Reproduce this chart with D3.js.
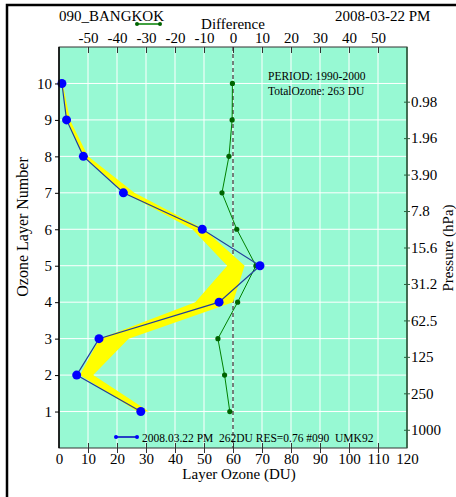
<!DOCTYPE html>
<html>
<head>
<meta charset="utf-8">
<script src="https://cdn.jsdelivr.net/npm/d3@7"></script>
<style>
  body { margin: 0; background: #fff; }
</style>
</head>
<body>
<div id="chart"></div>
<script>
// layer numbers and the measured profile
const layers = [1, 2, 3, 4, 5, 6, 7, 8, 9, 10];
const layerOzone = [28.2, 6.1, 13.8, 55.2, 69.3, 49.4, 22.2, 8.4, 2.6, 1.0];
const difference = [-1.1, -2.9, -5.2, 1.6, 7.9, 1.3, -3.8, -1.4, -0.3, -0.2];
// climatology range (yellow band)
const bandLow = [27, 7.2, 14, 47, 58, 46, 22.5, 8.4, 2.8, 1.0];
const bandHigh = [31, 11.8, 24, 60, 64, 50, 26, 10, 3.8, 1.3];
// axis tick labels
const ozoneTicks = [0, 10, 20, 30, 40, 50, 60, 70, 80, 90, 100, 110, 120];
const diffTicks = [-50, -40, -30, -20, -10, 0, 10, 20, 30, 40, 50];
const pressureLabels = ['1000', '250', '125', '62.5', '31.2', '15.6', '7.8', '3.90', '1.96', '0.98'];

const FONT = '"Liberation Serif", "DejaVu Serif", serif';
const W = 456, H = 497;
const margin = { top: 47, bottom: 49, left: 59, right: 49 };
const plotW = W - margin.left - margin.right;
const plotH = H - margin.top - margin.bottom;

const svg = d3.select('#chart').append('svg')
  .attr('width', W)
  .attr('height', H)
  .style('font-family', FONT);

const xScale = d3.scaleLinear().domain([0, 120]).range([margin.left, margin.left + plotW]);
const dScale = d3.scaleLinear().domain([-60, 60]).range([margin.left, margin.left + plotW]);
const yScale = d3.scaleLinear().domain([0, 11]).range([margin.top + plotH, margin.top]);

const rows = layers.map((l, i) => ({
  layer: l, ozone: layerOzone[i], diff: difference[i], lo: bandLow[i], hi: bandHigh[i]
}));

// outer frame (top and left)
svg.append('path')
  .attr('d', `M7,${H} L7,5 L${W},5`)
  .attr('fill', 'none')
  .attr('stroke', '#000')
  .attr('stroke-width', 2.5);

// plot background
svg.append('rect')
  .attr('x', margin.left).attr('y', margin.top)
  .attr('width', plotW).attr('height', plotH)
  .attr('fill', '#97f9d3');

// grid
const grid = svg.append('g').attr('stroke', '#fff').attr('stroke-width', 1);
grid.selectAll('.vg').data(ozoneTicks.slice(1, -1)).enter().append('line')
  .attr('x1', d => xScale(d)).attr('x2', d => xScale(d))
  .attr('y1', margin.top).attr('y2', margin.top + plotH);
grid.selectAll('.hg').data(layers).enter().append('line')
  .attr('y1', d => yScale(d)).attr('y2', d => yScale(d))
  .attr('x1', margin.left).attr('x2', margin.left + plotW);

// zero difference line
svg.append('line')
  .attr('x1', dScale(0)).attr('x2', dScale(0))
  .attr('y1', margin.top).attr('y2', margin.top + plotH)
  .attr('stroke', '#555')
  .attr('stroke-width', 1.5)
  .attr('stroke-dasharray', '4,3');

// climatology band
const band = d3.area()
  .y(d => yScale(d.layer))
  .x0(d => xScale(d.lo))
  .x1(d => xScale(d.hi));
svg.append('path')
  .datum(rows)
  .attr('d', band)
  .attr('fill', '#ffff00');

// difference profile
const diffLine = d3.line().x(d => dScale(d.diff)).y(d => yScale(d.layer));
svg.append('path')
  .datum(rows)
  .attr('d', diffLine)
  .attr('fill', 'none')
  .attr('stroke', '#008000')
  .attr('stroke-width', 1);
svg.selectAll('.gdot').data(rows).enter().append('circle')
  .attr('cx', d => dScale(d.diff)).attr('cy', d => yScale(d.layer))
  .attr('r', 2.6)
  .attr('fill', '#006400');

// layer ozone profile
const ozLine = d3.line().x(d => xScale(d.ozone)).y(d => yScale(d.layer));
svg.append('path')
  .datum(rows)
  .attr('d', ozLine)
  .attr('fill', 'none')
  .attr('stroke', '#23409a')
  .attr('stroke-width', 1.2);
svg.selectAll('.bdot').data(rows).enter().append('circle')
  .attr('cx', d => xScale(d.ozone)).attr('cy', d => yScale(d.layer))
  .attr('r', 4.5)
  .attr('fill', '#0000ff');

// plot border
svg.append('rect')
  .attr('x', margin.left).attr('y', margin.top)
  .attr('width', plotW).attr('height', plotH)
  .attr('fill', 'none')
  .attr('stroke', '#333')
  .attr('stroke-width', 1);
svg.append('line')
  .attr('x1', margin.left).attr('x2', margin.left)
  .attr('y1', margin.top).attr('y2', margin.top + plotH)
  .attr('stroke', '#000').attr('stroke-width', 1.5);
svg.append('line')
  .attr('x1', margin.left + plotW).attr('x2', margin.left + plotW)
  .attr('y1', margin.top).attr('y2', margin.top + plotH)
  .attr('stroke', '#2f5f3f').attr('stroke-width', 1.5);

// bottom axis
const xAxis = svg.append('g')
  .attr('transform', `translate(0, ${margin.top + plotH - 5})`)
  .call(d3.axisBottom(xScale).tickValues(ozoneTicks).tickSize(10));
xAxis.select('.domain').remove();
xAxis.selectAll('.tick line').attr('stroke', '#333')
  .filter(d => d === 0 || d === 120).remove();
xAxis.selectAll('text').attr('dy', null).attr('y', 21);

// top axis
const dAxis = svg.append('g')
  .attr('transform', `translate(0, ${margin.top})`)
  .call(d3.axisTop(dScale).tickValues(diffTicks).tickFormat(d => String(d)).tickSize(-6));
dAxis.select('.domain').remove();
dAxis.selectAll('.tick line').attr('stroke', '#333');
dAxis.selectAll('text').attr('dy', null).attr('y', -4);

// left axis
const yAxis = svg.append('g')
  .attr('transform', `translate(${margin.left}, 0)`)
  .call(d3.axisLeft(yScale).tickValues(layers).tickSize(4).tickPadding(3));
yAxis.select('.domain').remove();
yAxis.selectAll('.tick line').attr('stroke', '#000');

// right axis (pressure at layer boundaries)
const pAxis = svg.append('g')
  .attr('transform', `translate(${margin.left + plotW - 3}, 0)`)
  .call(d3.axisRight(yScale)
    .tickValues(layers.map(l => l - 0.5))
    .tickFormat((d, i) => pressureLabels[i])
    .tickSize(6).tickPadding(1));
pAxis.select('.domain').remove();
pAxis.selectAll('.tick line').attr('stroke', '#2f5f3f');

[xAxis, dAxis, yAxis, pAxis].forEach(a => a
  .attr('font-family', FONT)
  .attr('font-size', 15)
  .selectAll('text').attr('fill', '#000'));

// titles
function label(x, y, txt, size, anchor) {
  return svg.append('text')
    .attr('x', x).attr('y', y)
    .attr('text-anchor', anchor || 'start')
    .attr('font-family', FONT)
    .attr('font-size', size)
    .attr('fill', '#000')
    .text(txt);
}
label((margin.left + margin.left + plotW) / 2 + 6, 479, 'Layer Ozone (DU)', 15, 'middle');
label(0, 0, 'Ozone Layer Number', 16, 'middle')
  .attr('transform', 'translate(28, 227) rotate(-90)');
label(0, 0, 'Pressure (hPa)', 15, 'middle')
  .attr('transform', 'translate(453, 248) rotate(-90)');
label(dScale(0), 28.5, 'Difference', 15, 'middle');
label(59, 21, '090_BANGKOK', 15);
label(335, 20.5, '2008-03-22 PM', 15);

// info box
label(268, 80, 'PERIOD: 1990-2000', 11.5);
label(268, 94.5, 'TotalOzone: 263 DU', 11.5);

// difference legend key
const gKey = svg.append('g');
gKey.append('line')
  .attr('x1', 137).attr('x2', 160).attr('y1', 24).attr('y2', 24)
  .attr('stroke', '#008000').attr('stroke-width', 1.5);
gKey.selectAll('circle').data([137, 160]).enter().append('circle')
  .attr('cx', d => d).attr('cy', 24).attr('r', 2).attr('fill', '#006400');

// series legend
const bKey = svg.append('g');
bKey.append('line')
  .attr('x1', 116).attr('x2', 137).attr('y1', 437).attr('y2', 437)
  .attr('stroke', '#0000c0').attr('stroke-width', 1.5);
bKey.selectAll('circle').data([116, 137]).enter().append('circle')
  .attr('cx', d => d).attr('cy', 437).attr('r', 2).attr('fill', '#0000ff');
label(142, 441.5, '2008.03.22 PM  262DU RES=0.76 #090  UMK92', 11.5)
  .attr('xml:space', 'preserve');
</script>
</body>
</html>
